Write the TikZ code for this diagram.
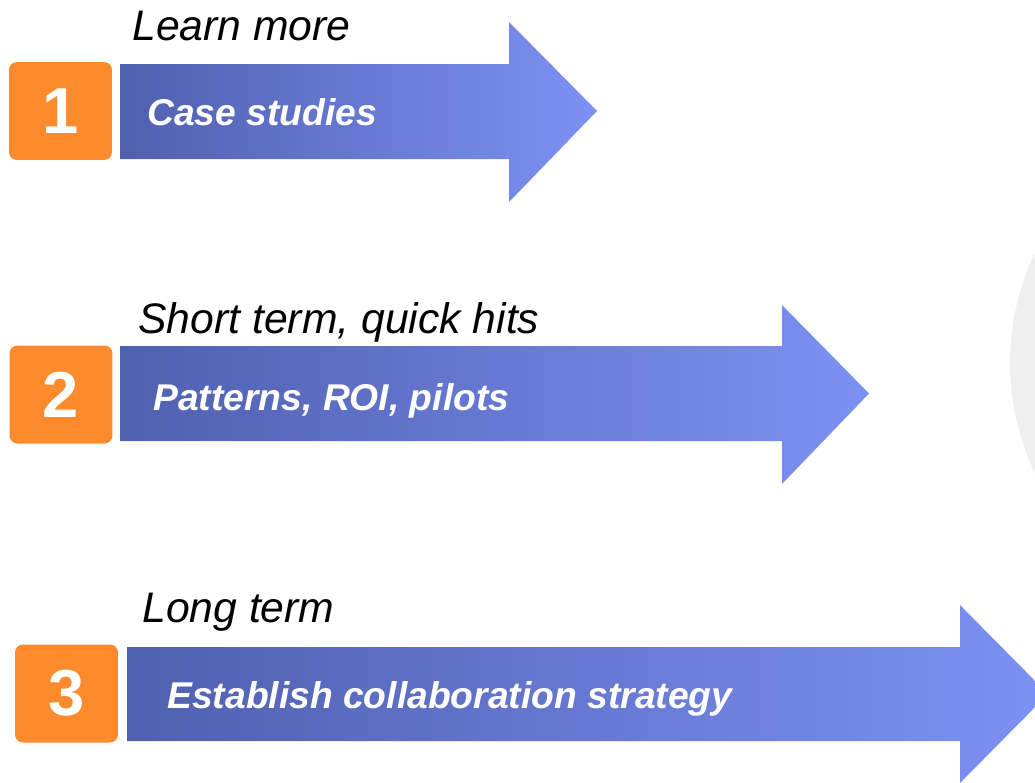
\documentclass[tikz,border=0pt]{standalone}
\usepackage{fontspec}
\setmainfont{Liberation Sans}
\usepackage{xcolor}
\usepackage{tikz}
\usetikzlibrary{positioning}

\definecolor{stepOrange}{RGB}{253,139,45}
\definecolor{arrowDark}{RGB}{80,96,176}
\definecolor{arrowLight}{RGB}{124,145,243}
\definecolor{discGray}{RGB}{239,239,239}

\begin{document}
\begin{tikzpicture}[x=0.02cm, y=-0.02cm,
  numbox/.style={fill=stepOrange, rounded corners=4.5pt, minimum width=2.06cm,
    minimum height=1.96cm, inner sep=0, text=white,
    font=\fontsize{37}{40}\selectfont\bfseries},
  stagelabel/.style={anchor=base west, inner sep=0, font=\fontsize{24.3}{28}\selectfont\itshape},
  arrowtext/.style={anchor=base west, inner sep=0, text=white,
    font=\fontsize{21.2}{25}\selectfont\bfseries\itshape},
  arrowfill/.style={left color=arrowDark, right color=arrowLight}]
  % page is 1035 x 782 units, y grows downwards
  \useasboundingbox (0,0) rectangle (1035,782);
  \clip (0,0) rectangle (1035,782);
  % grey disc peeking in at the right edge
  \fill[discGray] (1264,363) circle (254);
  % step 1: body 64..159, head 22..202
  \shade[arrowfill] (120,64) -- (509,64) -- (509,22) -- (597,111) -- (509,202) -- (509,159) -- (120,159) -- cycle;
  \node[numbox] (num1) at (60.5,111) {1};
  \node[stagelabel] (lab1) at (132,40) {Learn more};
  \node[arrowtext] (txt1) at (147,125) {Case studies};
  % step 2: body 346..441, head 305..484
  \shade[arrowfill] (120,346) -- (782,346) -- (782,305) -- (869,393.5) -- (782,484) -- (782,441) -- (120,441) -- cycle;
  \node[numbox] (num2) at (61,394.5) {2};
  \node[stagelabel] (lab2) at (138,333) {Short term, quick hits};
  \node[arrowtext] (txt2) at (153,410) {Patterns, ROI, pilots};
  % step 3: body 647..741, head 605..783 (tip runs off the page)
  \shade[arrowfill] (127,647) -- (960,647) -- (960,605) -- (1048,694) -- (960,783) -- (960,741) -- (127,741) -- cycle;
  \node[numbox] (num3) at (66.5,693.5) {3};
  \node[stagelabel] (lab3) at (142,622) {Long term};
  \node[arrowtext] (txt3) at (167,708) {Establish collaboration strategy};
\end{tikzpicture}
\end{document}
